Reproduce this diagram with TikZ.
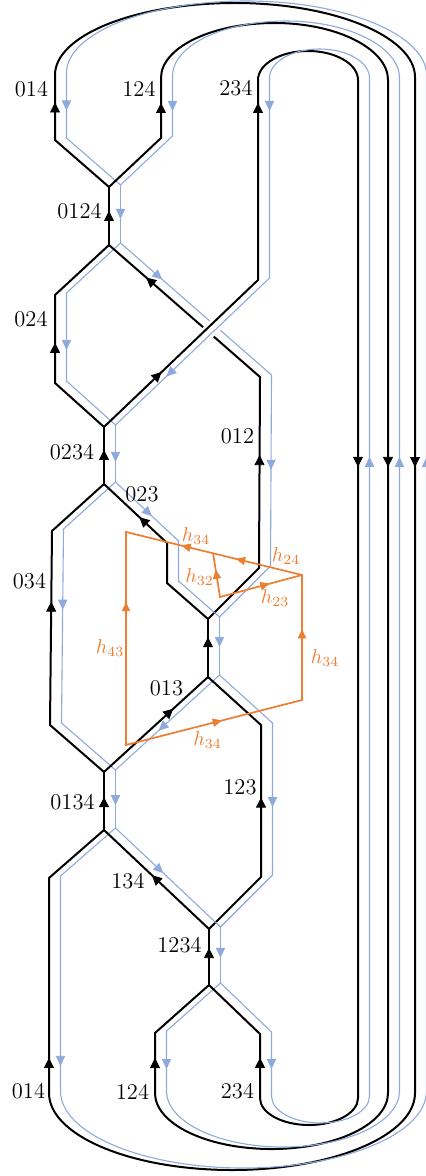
\documentclass[tikz,border=0pt]{standalone}
\usetikzlibrary{arrows.meta,decorations.markings}
\definecolor{bluec}{RGB}{142,169,219}
\definecolor{orangec}{RGB}{237,125,49}
\tikzset{
  blk/.style={line width=1pt, black, line join=miter},
  blu/.style={line width=0.55pt, bluec, transform canvas={xshift=5.75pt,yshift=1pt}},
  org/.style={line width=0.85pt, orangec, line join=miter},
  gapw/.style={line width=7pt, white},
  tipk/.style={decoration={markings, mark=at position #1 with {\pgftransformxshift{2.5pt}\arrow{Triangle[length=5pt,width=5pt]}}}, postaction=decorate, black},
  tipb/.style={decoration={markings, mark=at position #1 with {\pgftransformxshift{-2.5pt}\arrowreversed{Triangle[length=5pt,width=4.6pt]}}}, postaction=decorate, bluec, transform canvas={xshift=5.75pt,yshift=1pt}},
  tipo/.style={decoration={markings, mark=at position #1 with {\pgftransformxshift{2.2pt}\arrow{Triangle[length=4.5pt,width=4.2pt]}}}, postaction=decorate, orangec},
  lab/.style={font=\fontsize{11.25pt}{13pt}\selectfont, inner sep=0pt},
  olab/.style={font=\fontsize{9.8pt}{11pt}\selectfont, text=orangec, inner sep=0pt},
}
\newcommand\twin[1]{\draw[blk] #1; \draw[blu] #1;}
\newcommand\ak[3]{\path[tipk={#3}] #1 -- #2;}
\newcommand\ab[3]{\path[tipb={#3}] #1 -- #2;}
\newcommand\ao[3]{\path[tipo={#3}] #1 -- #2;}
\begin{document}
\begin{tikzpicture}[x=0.5pt,y=-0.5pt]
\useasboundingbox (0,0) rectangle (426,1176);
% vertices
\coordinate (A) at (109,187);
\coordinate (B) at (109,245);
\coordinate (C) at (104,427);
\coordinate (D) at (104,484);
\coordinate (F) at (208,619);
\coordinate (G) at (208,677);
\coordinate (E) at (104,772);
\coordinate (I) at (104,830);
\coordinate (H) at (209,929);
\coordinate (J) at (209,985);
% bends
\coordinate (p014a) at (55,140);  \coordinate (p014b) at (55,75);
\coordinate (p014c) at (415,77);  \coordinate (p014d) at (415,1093);
\coordinate (p014e) at (49,1093); \coordinate (p014f) at (49,878);
\coordinate (p124a) at (161,138); \coordinate (p124b) at (161,78);
\coordinate (p124c) at (388,80);  \coordinate (p124d) at (388,1093);
\coordinate (p124e) at (155,1093);\coordinate (p124f) at (155,1033);
\coordinate (p234a) at (258,280); \coordinate (p234b) at (258,80);
\coordinate (p234c) at (358,80);  \coordinate (p234d) at (358,1098);
\coordinate (p234e) at (260,1098);\coordinate (p234f) at (260,1034);
\coordinate (p024a) at (55,383);  \coordinate (p024b) at (55,295);
\coordinate (p012a) at (259,568); \coordinate (p012b) at (260,377);
\coordinate (p034a) at (50,725);  \coordinate (p034b) at (52,531);
\coordinate (p023a) at (167,583); \coordinate (p023b) at (167,543);
\coordinate (p123a) at (261,877); \coordinate (p123b) at (261,725);

% loops
\twin{(A) -- (p014a) -- (p014b) .. controls (55,35.3) and (135.6,3) .. (235,3) .. controls (334.4,3) and (415,37) .. (p014c) -- (p014d) .. controls (415,1135.5) and (333,1170) .. (232,1170) .. controls (131,1170) and (49,1135.5) .. (p014e) -- (p014f) -- (I)}
\twin{(A) -- (p124a) -- (p124b) .. controls (161,47.6) and (211.8,23) .. (274.5,23) .. controls (337.2,23) and (388,49) .. (p124c) -- (p124d) .. controls (388,1124) and (335.8,1149) .. (271.5,1149) .. controls (207.2,1149) and (155,1124) .. (p124e) -- (p124f) -- (J)}
% edges
\twin{(B) -- (A)}
\twin{(C) -- (p024a) -- (p024b) -- (B)}
\twin{(F) -- (p012a) -- (p012b) -- (B)}
\twin{(D) -- (C)}
\twin{(E) -- (p034a) -- (p034b) -- (D)}
\twin{(F) -- (p023a) -- (p023b) -- (D)}
\twin{(G) -- (F)}
\twin{(E) -- (G)}
\twin{(H) -- (p123a) -- (p123b) -- (G)}
\twin{(I) -- (E)}
\twin{(H) -- (I)}
\twin{(J) -- (H)}
% crossing gap, then over-strand loop 234
\draw[gapw] (194.5,345.1) -- (229.9,311.3);
\twin{(C) -- (p234a) -- (p234b) .. controls (258,64) and (280.4,51) .. (308,51) .. controls (335.6,51) and (358,64) .. (p234c) -- (p234d) .. controls (358,1113) and (336,1125) .. (309,1125) .. controls (282,1125) and (260,1113) .. (p234e) -- (p234f) -- (J)}

% arrows black / blue
\ak{(p014a)}{(p014b)}{0.5}   \ab{(p014a)}{(p014b)}{0.5}
\ak{(p124a)}{(p124b)}{0.5}   \ab{(p124a)}{(p124b)}{0.5}
\ak{(p234a)}{(p234b)}{0.86}  \ab{(p234a)}{(p234b)}{0.86}
\ak{(p014c)}{(p014d)}{0.379} \ab{(p014c)}{(p014d)}{0.381}
\ak{(p124c)}{(p124d)}{0.377} \ab{(p124c)}{(p124d)}{0.379}
\ak{(p234c)}{(p234d)}{0.375} \ab{(p234c)}{(p234d)}{0.377}
\ak{(B)}{(A)}{0.5}           \ab{(B)}{(A)}{0.5}
\ak{(p012b)}{(B)}{0.73}      \ab{(p012b)}{(B)}{0.75}
\ak{(C)}{(p234a)}{0.35}      \ab{(C)}{(p234a)}{0.354}
\ak{(p024a)}{(p024b)}{0.4}   \ab{(p024a)}{(p024b)}{0.41}
\ak{(p012a)}{(p012b)}{0.565} \ab{(p012a)}{(p012b)}{0.53}
\ak{(D)}{(C)}{0.51}          \ab{(D)}{(C)}{0.44}
\ak{(p034a)}{(p034b)}{0.61}  \ab{(p034a)}{(p034b)}{0.61}
\ak{(p023b)}{(D)}{0.38}      \ab{(p023b)}{(D)}{0.48}
\ak{(G)}{(F)}{0.6}           \ab{(G)}{(F)}{0.57}
\ak{(E)}{(G)}{0.63}          \ab{(E)}{(G)}{0.45}
\ak{(p123a)}{(p123b)}{0.49}  \ab{(p123a)}{(p123b)}{0.48}
\ak{(I)}{(E)}{0.48}          \ab{(I)}{(E)}{0.48}
\ak{(H)}{(I)}{0.51}          \ab{(H)}{(I)}{0.58}
\ak{(J)}{(H)}{0.57}          \ab{(J)}{(H)}{0.54}
\ak{(p014e)}{(p014f)}{0.14}  \ab{(p014e)}{(p014f)}{0.14}
\ak{(p124e)}{(p124f)}{0.5}   \ab{(p124e)}{(p124f)}{0.45}
\ak{(p234e)}{(p234f)}{0.55}  \ab{(p234e)}{(p234f)}{0.5}

% orange
\coordinate (O1) at (126,532);
\coordinate (O2) at (126,745);
\coordinate (O3) at (302,700);
\coordinate (O4) at (302,575);
\coordinate (O5) at (220,597);
\coordinate (O6) at (213,553);
\draw[org] (O1) -- (O2) -- (O3) -- (O4) -- cycle;
\draw[org] (O4) -- (O5) -- (O6);
\ao{(O2)}{(O1)}{0.65}
\ao{(O2)}{(O3)}{0.52}
\ao{(O3)}{(O4)}{0.53}
\ao{(O4)}{(O1)}{0.35}
\ao{(O4)}{(O1)}{0.66}
\ao{(O5)}{(O4)}{0.55}
\ao{(O5)}{(O6)}{0.52}

% labels
\node[lab] (l014t) at (31.5,89) {014};
\node[lab] (l124t) at (139,89) {124};
\node[lab] (l234t) at (236,88) {234};
\node[lab] (l0124) at (79.5,211) {0124};
\node[lab] (l024) at (31,319) {024};
\node[lab] (l012) at (237.5,436) {012};
\node[lab] (l0234) at (72,452) {0234};
\node[lab] (l023) at (142,494) {023};
\node[lab] (l034) at (29.5,581) {034};
\node[lab] (l013) at (166.5,688) {013};
\node[lab] (l0134) at (72.5,802) {0134};
\node[lab] (l123) at (240,787) {123};
\node[lab] (l134) at (128,881) {134};
\node[lab] (l1234) at (179.5,945.5) {1234};
\node[lab] (l014b) at (28.5,1091) {014};
\node[lab] (l124b) at (132.5,1092) {124};
\node[lab] (l234b) at (237.5,1091) {234};
\node[olab] (h34a) at (196,536) {$h_{34}$};
\node[olab] (h24) at (286,556) {$h_{24}$};
\node[olab] (h32) at (199.5,577) {$h_{32}$};
\node[olab] (h23) at (275,598) {$h_{23}$};
\node[olab] (h43) at (110,648) {$h_{43}$};
\node[olab] (h34b) at (325,658) {$h_{34}$};
\node[olab] (h34c) at (207.5,740) {$h_{34}$};
\end{tikzpicture}
\end{document}
